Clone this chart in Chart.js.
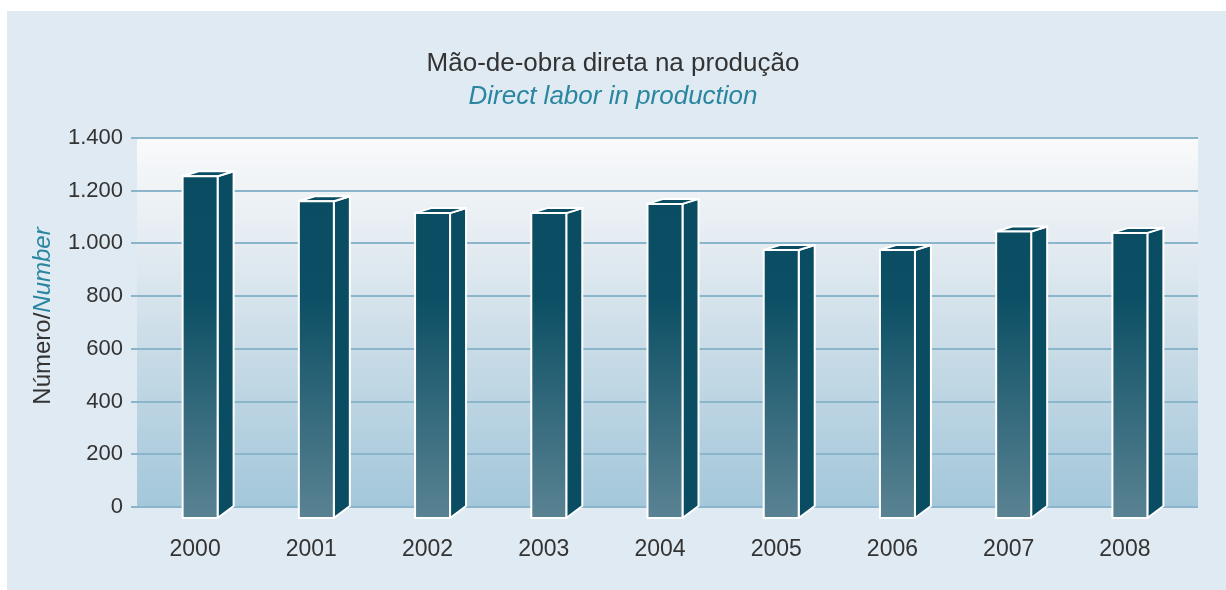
<!DOCTYPE html>
<html>
<head>
<meta charset="UTF-8">
<title>Mão-de-obra direta na produção</title>
<style>
body{
	margin: 0;
	background-color: #ffffff;
}
#frame{
	position: absolute; left: 7px; top: 11px;
	width: 1219px; height: 579px;
	background-color: #dfeaf2;
}
#wrap{
	position: absolute; left: 0; top: 0;
	width: 1226px; height: 590px;
}
</style>
</head>
<body>
<div id="frame"></div>
<div id="wrap"><canvas id="myChart"></canvas></div>
<script src="https://cdn.jsdelivr.net/npm/chart.js@4.4.0/dist/chart.umd.min.js"></script>
<script>
// dados
const years = ['2000','2001','2002','2003','2004','2005','2006','2007','2008'];
const labor = [1255, 1160, 1115, 1115, 1150, 975, 975, 1045, 1040];
const yTicks = [0, 200, 400, 600, 800, 1000, 1200, 1400];
const titleText = 'Mão-de-obra direta na produção';
const subtitleText = 'Direct labor in production';
const yTitleParts = ['Número/', 'Number'];

const FONT = "'Liberation Sans', Arial, sans-serif";
const TEAL = '#2a86a0';
const TEXT = '#333333';
const GRID = '#8ab5cb';
const EXTRA_RIGHT = 15; // fundo e grade passam um pouco da última categoria

function fmt(v){ // 1400 -> 1.400
	if(v < 1000) return String(v);
	return Math.floor(v/1000) + '.' + String(v%1000).padStart(3,'0');
}

// fundo da área do gráfico (degradê)
const plotBg = {
	id:'plotBg',
	beforeDraw(chart){
		const a = chart.chartArea, ctx = chart.ctx;
		const g = ctx.createLinearGradient(0, a.top, 0, a.bottom);
		g.addColorStop(0, '#f9fafb');
		g.addColorStop(0.3, '#e3ebf1');
		g.addColorStop(0.6, '#c6dae6');
		g.addColorStop(1, '#a3c7da');
		ctx.save();
		ctx.fillStyle = g;
		ctx.fillRect(a.left, a.top, a.right-a.left+EXTRA_RIGHT, a.bottom-a.top);
		ctx.restore();
	},
	beforeDatasetsDraw(chart){
		// prolonga as linhas de grade até a borda direita do fundo
		const a = chart.chartArea, ctx = chart.ctx, ys = chart.scales.y;
		ctx.save();
		ctx.strokeStyle = GRID;
		ctx.lineWidth = 2;
		yTicks.forEach(function(v){
			const y = Math.round(ys.getPixelForValue(v));
			ctx.beginPath();
			ctx.moveTo(a.right-1, y);
			ctx.lineTo(a.right+EXTRA_RIGHT, y);
			ctx.stroke();
		});
		ctx.restore();
	}
};

// barras 3D a partir dos elementos do Chart.js
const bar3d = {
	id:'bar3d',
	afterDatasetsDraw(chart){
		const ctx = chart.ctx, a = chart.chartArea;
		const meta = chart.getDatasetMeta(0);
		const front = ctx.createLinearGradient(0, a.top, 0, a.bottom+12);
		front.addColorStop(0, '#094c61');
		front.addColorStop(0.42, '#0c4f64');
		front.addColorStop(1, '#5a8393');
		const dx = 16, dyTop = 5, drop = 12;
		meta.data.forEach(function(el){
			const w = el.width;
			const l = el.x - w/2 + 5, r = l + w;
			const t = el.y, b = el.base + drop;
			ctx.save();
			ctx.lineWidth = 2;
			ctx.strokeStyle = '#ffffff';
			ctx.lineJoin = 'round';
			ctx.fillStyle = '#0a4c61';
			// lado
			ctx.beginPath();
			ctx.moveTo(r, t); ctx.lineTo(r+dx, t-dyTop); ctx.lineTo(r+dx, el.base); ctx.lineTo(r, b);
			ctx.closePath(); ctx.fill(); ctx.stroke();
			// topo
			ctx.beginPath();
			ctx.moveTo(l, t); ctx.lineTo(l+dx, t-dyTop); ctx.lineTo(r+dx, t-dyTop); ctx.lineTo(r, t);
			ctx.closePath(); ctx.fill(); ctx.stroke();
			// frente
			ctx.fillStyle = front;
			ctx.fillRect(l, t, w, b-t);
			ctx.strokeRect(l, t, w, b-t);
			ctx.restore();
		});
	}
};

// título do eixo y com duas cores
const yTitle = {
	id:'yTitle',
	afterDraw(chart){
		const ctx = chart.ctx;
		ctx.save();
		ctx.translate(43, 316);
		ctx.rotate(-Math.PI/2);
		ctx.textBaseline = 'middle';
		ctx.textAlign = 'left';
		ctx.font = '24px ' + FONT;
		const w1 = ctx.measureText(yTitleParts[0]).width;
		ctx.font = 'italic 24px ' + FONT;
		const w2 = ctx.measureText(yTitleParts[1]).width;
		const x = -(w1+w2)/2;
		ctx.font = '24px ' + FONT;
		ctx.fillStyle = TEXT;
		ctx.fillText(yTitleParts[0], x, 0);
		ctx.font = 'italic 24px ' + FONT;
		ctx.fillStyle = TEAL;
		ctx.fillText(yTitleParts[1], x+w1, 0);
		ctx.restore();
	}
};

const ctx = document.getElementById('myChart').getContext('2d');
const chart = new Chart(ctx, {
	type:'bar',
	data:{
		labels: years,
		datasets:[{
			data: labor,
			backgroundColor: 'rgba(0,0,0,0)',
			borderWidth: 0,
			barThickness: 35
		}]
	},
	options:{
		responsive: true,
		maintainAspectRatio: false,
		animation: false,
		layout:{ padding:{ left:43, right:43, top:0, bottom:0 } },
		plugins:{
			legend:{ display:false },
			tooltip:{ enabled:false },
			title:{
				display:true, text:titleText, color:TEXT,
				font:{ family:FONT, size:26, weight:'normal' },
				padding:{ top:48, bottom:0 }
			},
			subtitle:{
				display:true, text:subtitleText, color:TEAL,
				font:{ family:FONT, size:26, weight:'normal', style:'italic' },
				padding:{ top:2, bottom:25.6 }
			}
		},
		scales:{
			x:{
				grid:{ display:false, drawTicks:false },
				border:{ display:false },
				ticks:{ color:TEXT, font:{ family:FONT, size:23 }, padding:29 },
				afterFit(scale){ scale.height = 83; }
			},
			y:{
				min:0, max:1400,
				grid:{ color:GRID, lineWidth:2, tickLength:6, tickColor:GRID },
				border:{ display:false },
				ticks:{ color:TEXT, font:{ family:FONT, size:22 }, padding:8,
					callback:function(v){ return fmt(v); } },
				afterBuildTicks(scale){ scale.ticks = yTicks.map(function(v){ return {value:v}; }); },
				afterFit(scale){ scale.width = 94; }
			}
		}
	},
	plugins:[plotBg, bar3d, yTitle]
});
</script>
</body>
</html>
